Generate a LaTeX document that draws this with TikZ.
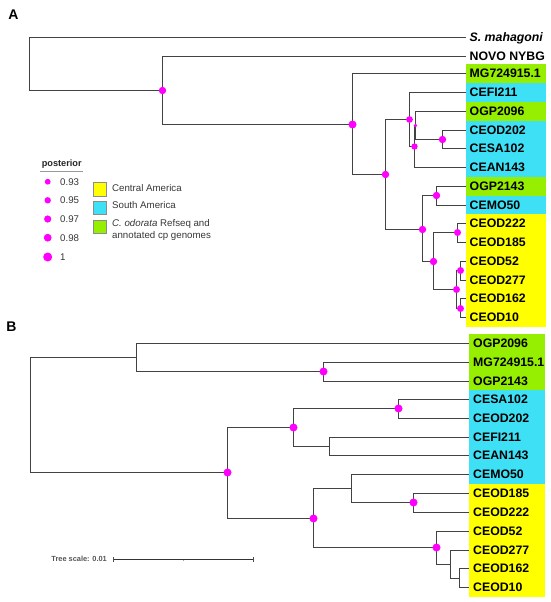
\documentclass[tikz,border=0pt]{standalone}
\usepackage{fontspec}
\setmainfont{Liberation Sans}
\definecolor{lineg}{RGB}{66,66,66}
\definecolor{mag}{RGB}{255,0,255}
\definecolor{yel}{RGB}{255,255,0}
\definecolor{cya}{RGB}{61,224,245}
\definecolor{grn}{RGB}{150,238,0}
\definecolor{legtxt}{RGB}{55,55,55}
\definecolor{scg}{RGB}{85,85,85}
\begin{document}
\begin{tikzpicture}[x=1pt,y=-1pt,
  br/.style={line width=1.7pt, draw=lineg},
  leaf/.style={anchor=base west, inner sep=0pt, font=\fontsize{12.3}{14}\selectfont\bfseries, yshift=-4.4pt},
  legt/.style={anchor=base west, inner sep=0pt, font=\fontsize{9.7}{11}\selectfont, text=legtxt, yshift=-3.5pt},
  panel/.style={anchor=center, inner sep=0pt, font=\fontsize{14}{16}\selectfont\bfseries},
  sq/.style={draw=black!45, line width=0.6pt}]
\useasboundingbox (0,0) rectangle (550,602);
\fill[white] (0,0) rectangle (550,602);

% ---------- panel labels ----------
\node[panel] (pA) at (13.5,15) {A};
\node[panel] (pB) at (11.5,327) {B};

% ---------- colour boxes A ----------
\fill[grn] (465.7,64.3) rectangle (546,83);
\fill[cya] (465.7,83) rectangle (546,101.75);
\fill[grn] (465.7,101.75) rectangle (546,120.5);
\fill[cya] (465.7,120.5) rectangle (546,176.5);
\fill[grn] (465.7,176.5) rectangle (546,195.5);
\fill[cya] (465.7,195.5) rectangle (546,214.25);
\fill[yel] (465.7,214.25) rectangle (546,326.7);

% ---------- colour boxes B ----------
\fill[grn] (469,333.6) rectangle (545,390.2);
\fill[cya] (469,390.2) rectangle (545,484);
\fill[yel] (469,484) rectangle (545,596.7);

% ---------- tree A: tips and labels ----------
\foreach \i/\y/\t in {0/37.5/{\itshape S. mahagoni},1/56.5/{NOVO NYBG},2/73.5/{MG724915.1},
  3/92.5/{CEFI211},4/111.5/{OGP2096},5/130.5/{CEOD202},6/148.5/{CESA102},7/167.5/{CEAN143},
  8/186.5/{OGP2143},9/205.5/{CEMO50},10/223.5/{CEOD222},11/242.5/{CEOD185},12/261.5/{CEOD52},
  13/280.5/{CEOD277},14/298.5/{CEOD162},15/317.5/{CEOD10}}{
  \coordinate (tA\i) at (465.7,\y);
  \node[leaf] (lA\i) at (469.5,\y) {\t};
}
% internal nodes A
\coordinate (rA) at (29.5,63.5);
\coordinate (a1) at (162.5,90.5);
\coordinate (a2) at (352.5,124.5);
\coordinate (a3) at (385.5,174.5);
\coordinate (a4) at (409.5,119.5);
\coordinate (a5) at (414.5,146.5);
\coordinate (a6) at (415.5,125.5);
\coordinate (a7) at (442.5,139.5);
\coordinate (a9) at (422.5,229.5);
\coordinate (a10) at (436.5,195.5);
\coordinate (a11) at (433.5,261.5);
\coordinate (a12) at (457.5,232.5);
\coordinate (a13) at (456.5,289.5);
\coordinate (a14) at (460.5,270.5);
\coordinate (a15) at (460.5,308.5);

\draw[br] (rA) |- (tA0);
\draw[br] (rA) |- (a1);
\draw[br] (a1) |- (tA1);
\draw[br] (a1) |- (a2);
\draw[br] (a2) |- (tA2);
\draw[br] (a2) |- (a3);
\draw[br] (a3) |- (a4);
\draw[br] (a3) |- (a9);
\draw[br] (a4) |- (tA3);
\draw[br] (a4) |- (a5);
\draw[br] (a5) |- (a6);
\draw[br] (a5) |- (tA7);
\draw[br] (a6) |- (tA4);
\draw[br] (a6) |- (a7);
\draw[br] (a7) |- (tA5);
\draw[br] (a7) |- (tA6);
\draw[br] (a9) |- (a10);
\draw[br] (a9) |- (a11);
\draw[br] (a10) |- (tA8);
\draw[br] (a10) |- (tA9);
\draw[br] (a11) |- (a12);
\draw[br] (a11) |- (a13);
\draw[br] (a12) |- (tA10);
\draw[br] (a12) |- (tA11);
\draw[br] (a13) |- (a14);
\draw[br] (a13) |- (a15);
\draw[br] (a14) |- (tA12);
\draw[br] (a14) |- (tA13);
\draw[br] (a15) |- (tA14);
\draw[br] (a15) |- (tA15);

\foreach \n/\r in {a1/3.7,a2/4,a3/3.7,a4/3.4,a5/3.2,a6/1.8,a7/3.7,a9/3.7,a10/3.7,a11/3.7,a12/3.5,a13/3.5,a14/3.5,a15/3.5}{
  \fill[mag] (\n) circle[radius=\r pt];
}

% ---------- tree B ----------
\foreach \i/\y/\t in {0/343.5/{OGP2096},1/362.5/{MG724915.1},2/381.5/{OGP2143},3/399.5/{CESA102},
  4/418.5/{CEOD202},5/437.5/{CEFI211},6/455.5/{CEAN143},7/474.5/{CEMO50},8/493.5/{CEOD185},
  9/512.5/{CEOD222},10/531.5/{CEOD52},11/550.5/{CEOD277},12/568.5/{CEOD162},13/587.5/{CEOD10}}{
  \coordinate (tB\i) at (469,\y);
  \node[leaf] (lB\i) at (473,\y) {\t};
}
\coordinate (rB) at (30.5,415.5);
\coordinate (b1) at (136.5,357.5);
\coordinate (b2) at (323.5,371.5);
\coordinate (b5) at (227.5,472.5);
\coordinate (b6) at (293.5,427.5);
\coordinate (b7) at (398.5,408.5);
\coordinate (b8) at (329.5,446.5);
\coordinate (b9) at (313.5,518.5);
\coordinate (b10) at (351.5,488.5);
\coordinate (b11) at (413.5,502.5);
\coordinate (b12) at (436.5,547.5);
\coordinate (b13) at (450.5,564.5);
\coordinate (b14) at (459.5,578.5);

\draw[br] (rB) |- (b1);
\draw[br] (rB) |- (b5);
\draw[br] (b1) |- (tB0);
\draw[br] (b1) |- (b2);
\draw[br] (b2) |- (tB1);
\draw[br] (b2) |- (tB2);
\draw[br] (b5) |- (b6);
\draw[br] (b5) |- (b9);
\draw[br] (b6) |- (b7);
\draw[br] (b6) |- (b8);
\draw[br] (b7) |- (tB3);
\draw[br] (b7) |- (tB4);
\draw[br] (b8) |- (tB5);
\draw[br] (b8) |- (tB6);
\draw[br] (b9) |- (b10);
\draw[br] (b9) |- (b12);
\draw[br] (b10) |- (tB7);
\draw[br] (b10) |- (b11);
\draw[br] (b11) |- (tB8);
\draw[br] (b11) |- (tB9);
\draw[br] (b12) |- (tB10);
\draw[br] (b12) |- (b13);
\draw[br] (b13) |- (tB11);
\draw[br] (b13) |- (b14);
\draw[br] (b14) |- (tB12);
\draw[br] (b14) |- (tB13);

\foreach \n in {b2,b5,b6,b7,b9,b11,b12}{
  \fill[mag] (\n) circle[radius=4pt];
}

% ---------- legend ----------
\node[anchor=base, inner sep=0pt, font=\fontsize{9.2}{11}\selectfont\bfseries, text=black!85] (post) at (61.7,166) {posterior};
\coordinate (ulL) at (40,171);
\coordinate (ulR) at (82.7,171);
\draw[black!40, line width=0.8pt] (ulL) -- (ulR);
\foreach \k/\y/\r/\t in {1/181.7/2.9/0.93,2/200.3/3.2/0.95,3/219/3.6/0.97,4/237.7/3.9/0.98,5/257/4.5/1}{
  \coordinate (pd\k) at (47.7,\y);
  \fill[mag] (pd\k) circle[radius=\r pt];
  \node[legt] (pl\k) at (60,\y) {\t};
}
\draw[sq, fill=yel] (93.3,182.7) rectangle (106,196);
\draw[sq, fill=cya] (93.3,201) rectangle (106,214.3);
\draw[sq, fill=grn] (93.3,220.7) rectangle (106,233.7);
\node[legt] (lg1) at (112,187.7) {Central America};
\node[legt] (lg2) at (112,205) {South America};
\node[legt] (lg3) at (112,223) {\itshape C. odorata\upshape{} Refseq and};
\node[legt] (lg4) at (112,234.7) {annotated cp genomes};

% ---------- scale bar ----------
\node[anchor=base east, inner sep=0pt, font=\fontsize{7.4}{9}\selectfont\bfseries, text=scg, yshift=-2.7pt] (scl) at (107,559) {Tree scale: 0.01};
\coordinate (sbL) at (113,559.5);
\coordinate (sbR) at (253,559.5);
\coordinate (sbM) at (183,559.5);
\draw[black!80, line width=1.2pt] (sbL) -- (sbR);
\draw[black!70, line width=0.6pt] ([yshift=2.2pt]sbL) -- ([yshift=-2.2pt]sbL);
\draw[black!70, line width=0.6pt] ([yshift=2.2pt]sbR) -- ([yshift=-2.2pt]sbR);
\draw[black!35, line width=0.4pt] (sbM) -- ([yshift=-1.5pt]sbM);
\end{tikzpicture}
\end{document}
